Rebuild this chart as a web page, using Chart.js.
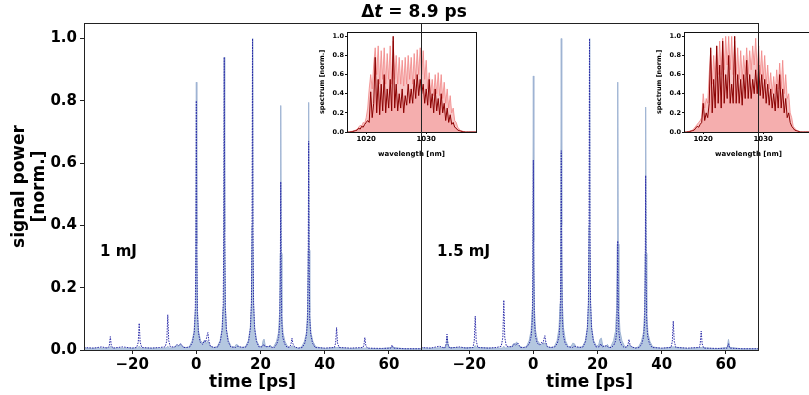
<!DOCTYPE html>
<html><head><meta charset="utf-8">
<script src="https://cdn.jsdelivr.net/npm/chart.js@4"></script>
<style>
html,body{margin:0;padding:0;background:#fff;overflow:hidden;}
#wrap{position:relative;width:809px;height:395px;overflow:hidden;background:#fff;}
canvas{position:absolute;}
</style></head><body>
<div id="wrap">
<canvas id="cL" style="left:0;top:0;z-index:1" width="809" height="395"></canvas>
<canvas id="iL" style="left:300px;top:24px;z-index:2" width="180" height="140"></canvas>
<canvas id="iR" style="left:637px;top:24px;z-index:3" width="180" height="140"></canvas>
<canvas id="cR" style="left:0;top:0;z-index:4" width="809" height="395"></canvas>
</div>
<script>
// ---------- tick labels ----------
const timeTicks = [-20, 0, 20, 40, 60];
const powerTicks = [0, 0.2, 0.4, 0.6, 0.8, 1.0];
const wlTicks = [1020, 1030];
const specTicks = [0, 0.2, 0.4, 0.6, 0.8, 1.0];
const panelLabels = ["1 mJ", "1.5 mJ"];

// ---------- time traces [t (ps), power] ----------
const leftFill = [[-35,0.005],[-31,0.006],[-27.3,0.006],[-26.8,0.012],[-26.3,0.006],[-22,0.006],[-18.3,0.006],[-17.8,0.012],[-17.3,0.006],[-12,0.006],[-9.4,0.006],[-8.9,0.012],[-8.4,0.006],[-6.8,0.008],[-6.2,0.016],[-5.6,0.012],[-5.0,0.02],[-4.4,0.01],[-3.2,0.008],
[-2.2,0.01],[-1.3,0.03],[-0.7,0.06],[-0.35,0.13],[-0.15,0.34],[0,0.86],[0.15,0.34],[0.35,0.13],[0.7,0.06],[1.3,0.03],
[2.1,0.022],[2.6,0.032],[3.1,0.02],[3.6,0.03],[4.2,0.012],[5.5,0.008],
[6.5,0.01],[7.4,0.03],[8.0,0.066],[8.35,0.14],[8.55,0.38],[8.7,0.94],[8.85,0.38],[9.05,0.14],[9.4,0.066],[10.0,0.03],[10.9,0.01],
[12.0,0.01],[12.4,0.018],[12.9,0.016],[13.5,0.008],
[15.3,0.01],[16.2,0.03],[16.8,0.07],[17.15,0.15],[17.35,0.4],[17.5,1.0],[17.65,0.4],[17.85,0.15],[18.2,0.07],[18.8,0.03],[19.7,0.01],
[20.5,0.012],[20.8,0.03],[21.1,0.035],[21.5,0.012],[22.6,0.01],[23.0,0.016],[23.5,0.008],
[24.1,0.01],[25.0,0.028],[25.6,0.055],[25.95,0.12],[26.15,0.31],[26.3,0.785],[26.45,0.31],[26.65,0.12],[27.0,0.055],[27.6,0.028],[28.5,0.01],
[29.4,0.008],[29.9,0.014],[30.4,0.008],[31.8,0.006],
[32.8,0.01],[33.7,0.028],[34.3,0.056],[34.65,0.12],[34.85,0.32],[35.0,0.795],[35.15,0.32],[35.35,0.12],[35.7,0.056],[36.3,0.028],[37.2,0.01],
[40,0.005],[43.7,0.008],[48,0.005],[52.5,0.006],[57,0.004],[61,0.008],[65,0.004],[70,0.004]];

const leftDot = [[-35,0.008],[-32,0.006],[-29.5,0.01],[-27.6,0.006],[-27.1,0.015],[-26.8,0.043],[-26.5,0.015],[-26.0,0.006],[-23,0.01],[-20,0.006],[-18.6,0.008],[-18.1,0.025],[-17.8,0.086],[-17.5,0.025],[-17.0,0.008],[-14,0.006],[-11.5,0.008],[-9.7,0.01],[-9.2,0.03],[-8.9,0.113],[-8.6,0.03],[-8.1,0.01],[-6.6,0.01],[-6.0,0.018],[-5.5,0.014],[-4.8,0.02],[-4.0,0.008],[-3.0,0.008],
[-2.0,0.01],[-1.2,0.025],[-0.65,0.056],[-0.33,0.12],[-0.15,0.32],[0,0.80],[0.15,0.32],[0.33,0.12],[0.65,0.056],[1.2,0.025],
[2.0,0.018],[2.5,0.03],[2.9,0.025],[3.3,0.045],[3.6,0.056],[3.9,0.03],[4.4,0.012],[5.5,0.008],
[6.7,0.01],[7.5,0.028],[8.05,0.066],[8.37,0.14],[8.55,0.38],[8.7,0.94],[8.85,0.38],[9.03,0.14],[9.35,0.066],[9.9,0.028],[10.7,0.01],
[12.2,0.008],[12.8,0.012],[14.5,0.008],
[15.5,0.01],[16.3,0.028],[16.85,0.07],[17.17,0.15],[17.35,0.4],[17.5,1.0],[17.65,0.4],[17.83,0.15],[18.15,0.07],[18.7,0.028],[19.5,0.01],
[20.5,0.01],[21.0,0.018],[21.5,0.01],[23.0,0.012],[23.6,0.008],
[24.3,0.008],[25.1,0.02],[25.65,0.04],[25.97,0.085],[26.15,0.22],[26.3,0.54],[26.45,0.22],[26.63,0.085],[26.95,0.04],[27.5,0.02],[28.3,0.008],
[29.2,0.01],[29.55,0.022],[29.8,0.038],[30.1,0.02],[30.6,0.01],[31.8,0.006],
[33.0,0.008],[33.8,0.022],[34.35,0.05],[34.67,0.1],[34.85,0.27],[35.0,0.67],[35.15,0.27],[35.33,0.1],[35.65,0.05],[36.2,0.022],[37.0,0.008],
[40,0.006],[43.0,0.008],[43.4,0.022],[43.7,0.072],[44.0,0.022],[44.5,0.008],[48,0.006],[51.9,0.008],[52.2,0.015],[52.5,0.04],[52.8,0.015],[53.3,0.006],[58,0.005],[60.6,0.006],[61,0.016],[61.4,0.006],[65,0.004],[70,0.004]];

const rightFill = [[-35,0.006],[-31,0.006],[-27.5,0.008],[-27.1,0.02],[-26.9,0.04],[-26.6,0.02],[-26.2,0.008],[-22,0.007],[-18.5,0.008],[-18.1,0.014],[-17.7,0.008],[-12,0.006],[-9.6,0.006],[-9.2,0.012],[-8.8,0.006],[-6.8,0.01],[-6.2,0.02],[-5.7,0.018],[-5.2,0.026],[-4.6,0.012],[-3.2,0.008],
[-2.2,0.01],[-1.3,0.03],[-0.7,0.062],[-0.35,0.13],[-0.15,0.35],[0,0.88],[0.15,0.35],[0.35,0.13],[0.7,0.062],[1.3,0.03],
[2.2,0.018],[2.8,0.02],[3.3,0.018],[3.7,0.024],[4.3,0.01],[5.5,0.008],
[6.5,0.01],[7.4,0.03],[8.0,0.07],[8.35,0.15],[8.55,0.4],[8.7,1.0],[8.85,0.4],[9.05,0.15],[9.4,0.07],[10.0,0.03],[10.9,0.01],
[11.8,0.012],[12.3,0.022],[12.8,0.02],[13.4,0.008],
[15.3,0.01],[16.2,0.03],[16.8,0.07],[17.15,0.15],[17.35,0.4],[17.5,1.0],[17.65,0.4],[17.85,0.15],[18.2,0.07],[18.8,0.03],[19.7,0.012],
[20.4,0.018],[20.8,0.035],[21.2,0.038],[21.6,0.015],[22.6,0.01],[23.1,0.018],[23.6,0.008],
[24.1,0.01],[25.0,0.03],[25.6,0.06],[25.95,0.13],[26.15,0.34],[26.3,0.86],[26.45,0.34],[26.65,0.13],[27.0,0.06],[27.6,0.03],[28.5,0.01],
[29.4,0.01],[29.9,0.018],[30.4,0.01],[31.8,0.007],
[32.8,0.01],[33.7,0.028],[34.3,0.055],[34.65,0.12],[34.85,0.31],[35.0,0.78],[35.15,0.31],[35.35,0.12],[35.7,0.055],[36.3,0.028],[37.2,0.01],
[40,0.005],[43.6,0.01],[48,0.005],[52.3,0.008],[57,0.004],[60.4,0.008],[60.8,0.034],[61.2,0.008],[65,0.004],[70,0.004]];

const rightDot = [[-35,0.008],[-32,0.006],[-29.3,0.012],[-27.6,0.006],[-27.2,0.018],[-26.9,0.051],[-26.6,0.018],[-26.1,0.006],[-23,0.01],[-21,0.006],[-18.8,0.008],[-18.4,0.03],[-18.1,0.109],[-17.8,0.03],[-17.3,0.008],[-14,0.006],[-11.5,0.008],[-10.0,0.012],[-9.5,0.04],[-9.2,0.16],[-8.9,0.04],[-8.4,0.012],[-6.6,0.01],[-6.0,0.02],[-5.5,0.016],[-4.8,0.022],[-4.0,0.008],[-3.0,0.008],
[-2.0,0.01],[-1.2,0.022],[-0.65,0.045],[-0.33,0.095],[-0.15,0.25],[0,0.61],[0.15,0.25],[0.33,0.095],[0.65,0.045],[1.2,0.022],
[2.0,0.016],[2.6,0.025],[3.0,0.02],[3.3,0.035],[3.6,0.046],[3.9,0.025],[4.4,0.01],[5.5,0.008],
[6.7,0.01],[7.5,0.022],[8.05,0.046],[8.37,0.1],[8.55,0.26],[8.7,0.64],[8.85,0.26],[9.03,0.1],[9.35,0.046],[9.9,0.022],[10.7,0.01],
[12.2,0.008],[12.8,0.012],[14.5,0.008],
[15.5,0.01],[16.3,0.028],[16.85,0.07],[17.17,0.15],[17.35,0.4],[17.5,1.0],[17.65,0.4],[17.83,0.15],[18.15,0.07],[18.7,0.028],[19.5,0.01],
[20.5,0.01],[21.0,0.02],[21.5,0.01],[22.8,0.014],[23.4,0.008],
[24.3,0.008],[25.1,0.016],[25.65,0.03],[25.97,0.06],[26.15,0.15],[26.3,0.35],[26.45,0.15],[26.63,0.06],[26.95,0.03],[27.5,0.016],[28.3,0.008],
[29.2,0.01],[29.55,0.02],[29.8,0.034],[30.1,0.018],[30.6,0.01],[31.8,0.006],
[33.0,0.008],[33.8,0.02],[34.35,0.042],[34.67,0.085],[34.85,0.23],[35.0,0.56],[35.15,0.23],[35.33,0.085],[35.65,0.042],[36.2,0.02],[37.0,0.008],
[40,0.006],[42.9,0.008],[43.3,0.028],[43.6,0.093],[43.9,0.028],[44.4,0.008],[48,0.006],[51.7,0.008],[52.0,0.02],[52.3,0.061],[52.6,0.02],[53.1,0.006],[58,0.005],[60.4,0.006],[60.8,0.02],[61.2,0.006],[65,0.004],[70,0.004]];

// ---------- spectra ----------
const wavelength = [1017.00,1017.25,1017.50,1017.75,1018.00,1018.25,1018.50,1018.75,1019.00,1019.25,1019.50,1019.75,1020.00,1020.25,1020.50,1020.75,1021.00,1021.25,1021.50,1021.75,1022.00,1022.25,1022.50,1022.75,1023.00,1023.25,1023.50,1023.75,1024.00,1024.25,1024.50,1024.75,1025.00,1025.25,1025.50,1025.75,1026.00,1026.25,1026.50,1026.75,1027.00,1027.25,1027.50,1027.75,1028.00,1028.25,1028.50,1028.75,1029.00,1029.25,1029.50,1029.75,1030.00,1030.25,1030.50,1030.75,1031.00,1031.25,1031.50,1031.75,1032.00,1032.25,1032.50,1032.75,1033.00,1033.25,1033.50,1033.75,1034.00,1034.25,1034.50,1034.75,1035.00,1035.25,1035.50,1035.75,1036.00,1036.25,1036.50,1036.75,1037.00,1038.50];

const specLightL = [0,0,0.005,0.01,0.015,0.02,0.03,0.05,0.07,0.06,
0.1,0.09,0.15,0.25,0.45,0.6,0.45,0.7,0.88,0.6,
0.9,0.5,0.85,0.55,0.88,0.5,0.82,0.55,0.9,0.5,
0.95,0.55,0.8,0.5,0.78,0.5,0.75,0.48,0.78,0.5,
0.8,0.55,0.78,0.5,0.82,0.55,0.86,0.6,0.88,0.6,
0.85,0.55,0.75,0.45,0.62,0.4,0.55,0.38,0.6,0.4,
0.62,0.38,0.6,0.35,0.52,0.3,0.45,0.25,0.38,0.2,
0.25,0.12,0.1,0.05,0.03,0.015,0.01,0.005,0,0,
0,0];
const specDarkL = [0,0,0.002,0.005,0.01,0.015,0.02,0.04,0.03,0.06,
0.05,0.08,0.1,0.12,0.1,0.42,0.15,0.3,0.78,0.2,
0.55,0.18,0.5,0.22,0.6,0.2,0.45,0.25,0.55,0.22,
1.0,0.25,0.5,0.22,0.4,0.25,0.45,0.2,0.38,0.28,
0.5,0.3,0.45,0.3,0.55,0.35,0.6,0.38,0.55,0.4,
0.5,0.3,0.45,0.28,0.55,0.25,0.4,0.2,0.45,0.22,
0.35,0.18,0.4,0.2,0.3,0.12,0.25,0.1,0.18,0.08,
0.1,0.05,0.04,0.02,0.015,0.01,0.005,0.002,0,0,
0,0];
const specLightR = [0,0,0.005,0.01,0.015,0.02,0.04,0.06,0.08,0.1,
0.12,0.15,0.4,0.25,0.35,0.3,0.6,0.85,0.5,0.8,
0.55,0.9,0.6,0.95,0.6,0.98,0.65,1.0,0.7,1.0,
0.65,1.0,0.6,0.95,0.6,0.88,0.55,0.85,0.55,0.8,
0.6,0.88,0.6,0.85,0.65,0.9,0.7,0.98,0.65,0.9,
0.6,0.85,0.55,0.8,0.5,0.7,0.45,0.62,0.4,0.58,
0.4,0.65,0.45,0.72,0.45,0.75,0.4,0.6,0.35,0.4,
0.2,0.15,0.06,0.04,0.02,0.01,0.005,0,0,0,
0,0];
const specDarkR = [0,0,0.002,0.005,0.01,0.015,0.02,0.04,0.06,0.05,
0.08,0.1,0.3,0.12,0.2,0.15,0.3,0.88,0.2,0.55,
0.25,0.9,0.3,0.7,0.25,0.95,0.3,0.6,0.35,0.8,
0.3,0.5,0.3,1.0,0.3,0.6,0.3,0.55,0.28,0.6,
0.35,0.75,0.35,0.6,0.35,0.55,0.4,0.65,0.4,0.7,
0.38,0.6,0.35,0.55,0.3,0.5,0.28,0.45,0.25,0.4,
0.22,0.5,0.25,0.6,0.25,0.45,0.2,0.35,0.15,0.2,
0.1,0.06,0.04,0.02,0.015,0.01,0.005,0,0,0,
0,0];

// ---------- helpers ----------
Chart.defaults.font.family = "'DejaVu Sans', sans-serif";
Chart.defaults.color = '#000';
const pairs = a => a.map(([x, y]) => ({x, y}));
const zipWl = v => wavelength.map((w, i) => ({x: w, y: v[i]}));
const fmtTime = v => v < 0 ? '\u2212' + Math.abs(v) : String(v);

const framePlugin = {
  id: 'frame',
  beforeDraw(chart, args, o) {
    if (!o.bg) return;
    const a = chart.chartArea, c = chart.ctx;
    c.save(); c.fillStyle = o.bg; c.fillRect(a.left, a.top, a.right - a.left, a.bottom - a.top); c.restore();
  },
  afterDraw(chart, args, o) {
    const a = chart.chartArea, c = chart.ctx;
    c.save(); c.strokeStyle = o.color || '#000'; c.lineWidth = o.width || 1;
    const l = Math.round(a.left) + 0.5, t = Math.round(a.top) + 0.5;
    c.strokeRect(l, t, Math.round(a.right) - Math.round(a.left), Math.round(a.bottom) - Math.round(a.top));
    c.restore();
  }
};
const labelPlugin = {
  id: 'panelLabel',
  afterDatasetsDraw(chart, args, o) {
    if (!o.text) return;
    const c = chart.ctx;
    const x = chart.scales.x.getPixelForValue(o.x), y = chart.scales.y.getPixelForValue(o.y);
    c.save(); c.font = 'bold 15px "DejaVu Sans"'; c.fillStyle = '#000';
    c.textAlign = 'left'; c.textBaseline = 'middle'; c.fillText(o.text, x, y); c.restore();
  }
};
const titlePlugin = {
  id: 'figTitle',
  afterDraw(chart, args, o) {
    if (!o.show) return;
    const c = chart.ctx;
    const parts = [['\u0394', 'bold 17px "DejaVu Sans"'], ['t', 'italic bold 17px "DejaVu Sans"'], [' = 8.9 ps', 'bold 17px "DejaVu Sans"']];
    c.save(); c.fillStyle = '#000'; c.textBaseline = 'alphabetic'; c.textAlign = 'left';
    let w = 0; parts.forEach(p => { c.font = p[1]; w += c.measureText(p[0]).width; });
    let x = o.cx - w / 2;
    parts.forEach(p => { c.font = p[1]; c.fillText(p[0], x, o.y); x += c.measureText(p[0]).width; });
    c.restore();
  }
};

function mainChart(id, padL, padR, showY, fill, dot, label, showTitle) {
  return new Chart(document.getElementById(id), {
    type: 'line',
    data: { datasets: [
      { data: pairs(dot), borderColor: '#2a2aa8', borderWidth: 1, borderDash: [1.5, 1.2], pointRadius: 0, fill: false, tension: 0, order: 0 },
      { data: pairs(fill), borderColor: '#9fb4d3', borderWidth: 1, backgroundColor: 'rgba(176,196,222,0.95)', pointRadius: 0, fill: 'origin', tension: 0, order: 1 }
    ]},
    plugins: [framePlugin, labelPlugin, titlePlugin],
    options: {
      responsive: false, animation: false, devicePixelRatio: 1,
      layout: { padding: { left: padL, right: padR, top: 23, bottom: 0 } },
      plugins: { legend: { display: false }, tooltip: { enabled: false },
        frame: { color: '#222', width: 1 },
        panelLabel: { text: label, x: -30, y: 0.315 },
        figTitle: { show: showTitle, cx: 414, y: 17 } },
      scales: {
        x: { type: 'linear', min: -35, max: 70,
          afterBuildTicks: s => { s.ticks = timeTicks.map(v => ({value: v})); },
          afterFit: s => { s.height = 45; },
          ticks: { callback: fmtTime, font: { size: 15, weight: 'bold' }, padding: 2, maxRotation: 0, color: '#000' },
          grid: { drawOnChartArea: false, tickLength: 4, color: '#222' },
          border: { display: false },
          title: { display: true, text: 'time [ps]', font: { size: 17, weight: 'bold' }, padding: { top: 0, bottom: 2 }, color: '#000' } },
        y: { type: 'linear', min: 0, max: 1.05, display: showY,
          afterBuildTicks: s => { s.ticks = powerTicks.map(v => ({value: v})); },
          afterFit: s => { s.width = showY ? 84 : 0; },
          ticks: { callback: v => v.toFixed(1), font: { size: 15, weight: 'bold' }, padding: 3, color: '#000' },
          grid: { drawOnChartArea: false, tickLength: 4, color: '#222' },
          border: { display: false },
          title: { display: true, text: ['signal power', '[norm.]'], font: { size: 17, weight: 'bold' }, padding: { top: 9 }, color: '#000' } }
      }
    }
  });
}

function insetChart(id, light, dark) {
  return new Chart(document.getElementById(id), {
    type: 'line',
    data: { datasets: [
      { data: zipWl(dark), borderColor: '#8b0000', borderWidth: 1, backgroundColor: 'rgba(240,128,128,0.35)', pointRadius: 0, fill: 'origin', tension: 0, order: 0 },
      { data: zipWl(light), borderColor: 'rgba(240,128,128,0.75)', borderWidth: 1, backgroundColor: 'rgba(240,128,128,0.45)', pointRadius: 0, fill: 'origin', tension: 0, order: 1 }
    ]},
    plugins: [framePlugin],
    options: {
      responsive: false, animation: false, devicePixelRatio: 1,
      layout: { padding: { left: 0, right: 4, top: 8, bottom: 0 } },
      plugins: { legend: { display: false }, tooltip: { enabled: false }, frame: { bg: '#fff', color: '#111', width: 1 } },
      scales: {
        x: { type: 'linear', min: 1016.8, max: 1038.3,
          afterBuildTicks: s => { s.ticks = wlTicks.map(v => ({value: v})); },
          afterFit: s => { s.height = 32; },
          ticks: { callback: v => String(v), font: { size: 7, weight: 'bold' }, padding: 1, maxRotation: 0, color: '#000' },
          grid: { drawOnChartArea: false, tickLength: 2, color: '#111' },
          border: { display: false },
          title: { display: true, text: 'wavelength [nm]', font: { size: 7, weight: 'bold' }, padding: { top: 0, bottom: 6 }, color: '#000' } },
        y: { type: 'linear', min: 0, max: 1.045,
          afterBuildTicks: s => { s.ticks = specTicks.map(v => ({value: v})); },
          afterFit: s => { s.width = 47; },
          ticks: { callback: v => v.toFixed(1), font: { size: 6.5, weight: 'bold' }, padding: 1, color: '#000' },
          grid: { drawOnChartArea: false, tickLength: 2, color: '#111' },
          border: { display: false },
          title: { display: true, text: 'spectrum [norm.]', font: { size: 6.5, weight: 'bold' }, padding: { top: 18 }, color: '#000' } }
      }
    }
  });
}

mainChart('cL', 0, 388, true, leftFill, leftDot, panelLabels[0], false);
insetChart('iL', specLightL, specDarkL);
insetChart('iR', specLightR, specDarkR);
mainChart('cR', 421, 51, false, rightFill, rightDot, panelLabels[1], true);
</script>
</body></html>
